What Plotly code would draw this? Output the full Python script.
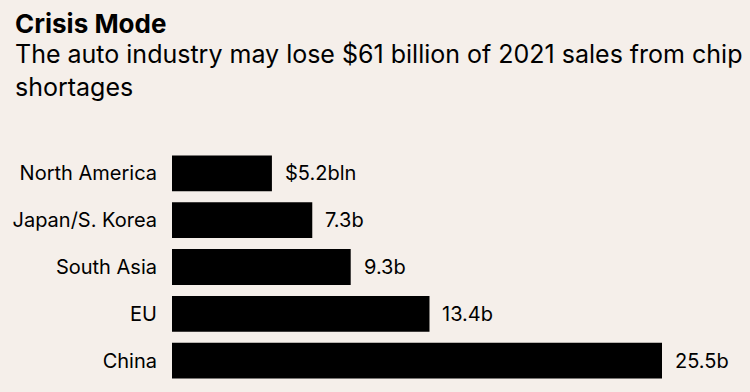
import plotly.graph_objects as go

regions = ["North America", "Japan/S. Korea", "South Asia", "EU", "China"]
losses = [5.2, 7.3, 9.3, 13.4, 25.5]
value_labels = ["$5.2bln", "7.3b", "9.3b", "13.4b", "25.5b"]

title = "Crisis Mode"
subtitle = "The auto industry may lose $61 billion of 2021 sales from chip<br>shortages"

BG = "#f5efea"
FONT = "Inter, Liberation Sans, Arial, sans-serif"

W, H = 750, 392
L, R, T, B = 172, 0, 149.5, 7.5
plot_w = W - L - R
plot_h = H - T - B
px_per_unit = 490 / 25.5
xmax = plot_w / px_per_unit

def py(y_pix):
    return (H - B - y_pix) / plot_h

def px(x_pix):
    return (x_pix - L) / plot_w

fig = go.Figure(
    go.Bar(
        y=regions,
        x=losses,
        orientation="h",
        marker=dict(color="#000000", line=dict(width=0)),
        hoverinfo="skip",
    )
)

annotations = [
    dict(
        x=v, y=r, xref="x", yref="y",
        text=lab, xanchor="left", yanchor="middle",
        xshift=11, showarrow=False,
        font=dict(family=FONT, size=20, color="#000000"),
    )
    for r, v, lab in zip(regions, losses, value_labels)
]

annotations += [
    dict(
        text="<b>" + title + "</b>",
        xref="paper", yref="paper",
        x=px(13), y=py(5),
        xanchor="left", yanchor="top",
        showarrow=False,
        font=dict(family=FONT, size=26, color="#000000"),
    ),
    dict(
        text=subtitle,
        xref="paper", yref="paper",
        x=px(13), y=py(36),
        xanchor="left", yanchor="top",
        align="left",
        showarrow=False,
        font=dict(family=FONT, size=25, color="#000000"),
    ),
]

fig.update_layout(
    width=W,
    height=H,
    paper_bgcolor=BG,
    plot_bgcolor=BG,
    margin=dict(l=L, r=R, t=T, b=B),
    bargap=11 / 47,
    showlegend=False,
    xaxis=dict(range=[0, xmax], visible=False, fixedrange=True),
    yaxis=dict(
        autorange="reversed",
        showgrid=False,
        zeroline=False,
        showline=False,
        ticks="",
        ticklabelstandoff=14,
        tickfont=dict(family=FONT, size=20, color="#000000"),
        fixedrange=True,
    ),
    annotations=annotations,
)

fig.write_html(
    "out.html",
    config={"displayModeBar": False},
    post_script="document.body.style.margin='0';document.body.style.background='%s';" % BG,
)
